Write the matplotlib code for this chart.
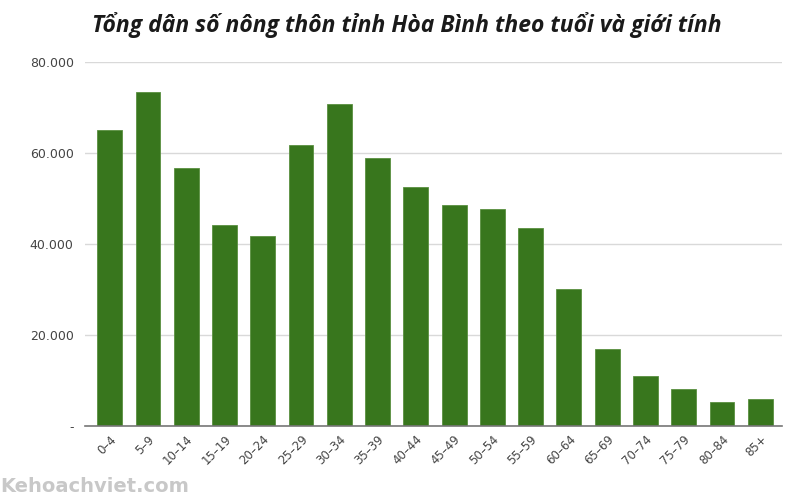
import matplotlib
matplotlib.use("Agg")
from matplotlib import pyplot as plt
from matplotlib.ticker import FuncFormatter

age_groups = ["0–4", "5–9", "10–14", "15–19", "20–24", "25–29", "30–34", "35–39",
              "40–44", "45–49", "50–54", "55–59", "60–64", "65–69", "70–74",
              "75–79", "80–84", "85+"]
population = [65000, 73400, 56700, 44200, 41800, 61700, 70700, 58900,
              52500, 48600, 47700, 43500, 30100, 16900, 11000, 8100, 5300, 5900]

fig = plt.figure(figsize=(8, 5), dpi=100)
ax = fig.add_axes([0.106, 0.148, 0.872, 0.728])

x = range(len(age_groups))
ax.bar(x, population, width=0.65, color="#38761d", edgecolor="#5a9040", linewidth=0.6, zorder=3)

ax.set_ylim(0, 80000)
ax.set_xlim(-0.65, len(age_groups) - 0.42)
ax.set_yticks([0, 20000, 40000, 60000, 80000])


def fmt(v, pos):
    if v == 0:
        return "-"
    return f"{int(v):,}".replace(",", ".")


ax.yaxis.set_major_formatter(FuncFormatter(fmt))
ax.grid(axis="y", color="#d9d9d9", linewidth=1, zorder=0)
ax.set_xticks(list(x))
ax.set_xticklabels(age_groups, rotation=45, ha="right", rotation_mode="anchor",
                   fontsize=8.5, color="#444444")
ax.tick_params(axis="x", length=0, pad=5)
ax.tick_params(axis="y", length=0, pad=8, labelsize=9, labelcolor="#444444")

for s in ["top", "right", "left"]:
    ax.spines[s].set_visible(False)
ax.spines["bottom"].set_color("#777777")
ax.spines["bottom"].set_linewidth(1.2)
ax.spines["bottom"].set_zorder(4)

fig.text(0.508, 0.95, "Tổng dân số nông thôn tỉnh Hòa Bình theo tuổi và giới tính",
         ha="center", va="center", fontsize=16.5, fontweight="bold", style="italic",
         color="#1a1a1a", family="Open Sans")
fig.text(0.0, 0.027, "Kehoachviet.com", ha="left", va="center", fontsize=14,
         fontweight="bold", color="#c8c8c8")

fig.savefig("out.png", dpi=100)
